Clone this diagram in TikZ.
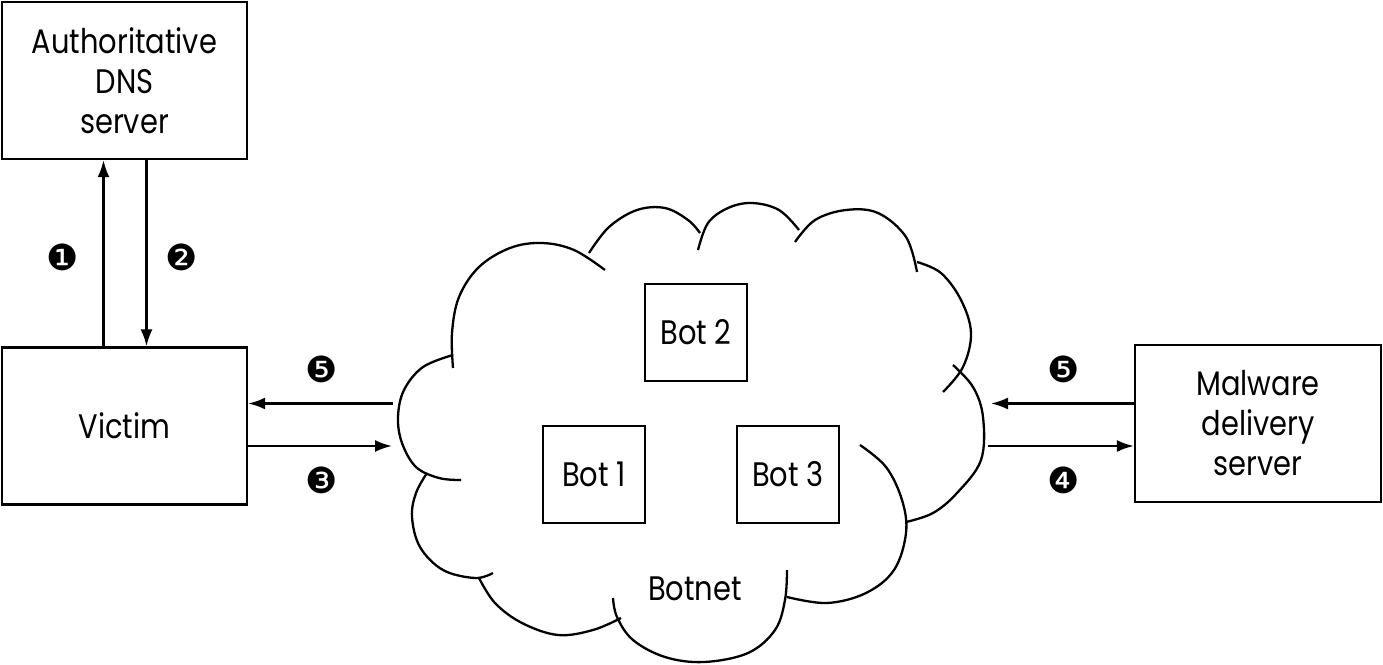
\documentclass[tikz,border=0pt]{standalone}
\usepackage{fontspec}
\setmainfont{Poppins}[FakeStretch=0.85]
\newfontfamily\numfont{DejaVu Sans}
\usetikzlibrary{arrows.meta}
\begin{document}
\begin{tikzpicture}[x=1pt,y=-1pt,
  box/.style={draw,line width=2.3pt,align=center,inner sep=0pt,
    font=\fontsize{34}{40}\selectfont},
  bigbox/.style={box,minimum width=245pt,minimum height=157pt},
  botbox/.style={box,minimum width=102pt,minimum height=97pt},
  arr/.style={line width=2.3pt,-{Latex[length=17pt,width=12pt]}},
  num/.style={font=\numfont\fontsize{36}{36}\selectfont,inner sep=0pt},
  lobe/.style={line width=2.3pt}]
\useasboundingbox (0,0) rectangle (1383,664);
\node[bigbox] (dns) at (124.5,80.5) {Authoritative\\DNS\\server};
\node[bigbox] (victim) at (124.5,426) {Victim};
\node[bigbox,minimum width=246pt] (mal) at (1258,423.5) {Malware\\delivery\\server};
\node[botbox] (bot2) at (696,332.5) {Bot 2};
\node[botbox] (bot1) at (594,474.5) {Bot 1};
\node[botbox] (bot3) at (788,474.5) {Bot 3};
\node[font=\fontsize{34}{40}\selectfont,inner sep=0pt] (botnet) at (695,589) {Botnet};
% cloud
\draw[lobe] plot[smooth,tension=0.6] coordinates {(453,368) (452,333) (459,297) (479,267) (510,248) (542,243) (574,250) (605,270)};
\draw[lobe] plot[smooth,tension=0.6] coordinates {(589,253) (609,227) (637,210) (665,208) (688,220) (700,233)};
\draw[lobe] plot[smooth,tension=0.6] coordinates {(698,250) (708,223) (728,208) (752,203) (779,210) (799,230)};
\draw[lobe] plot[smooth,tension=0.6] coordinates {(795,242) (815,220) (846,210) (878,213) (906,237) (917,272)};
\draw[lobe] plot[smooth,tension=0.6] coordinates {(917,262) (941,273) (961,300) (971,333) (963,367) (943,392)};
\draw[lobe] plot[smooth,tension=0.6] coordinates {(953,365) (973,387) (983,417) (981,460) (957,493) (933,513) (906,522)};
\draw[lobe] plot[smooth,tension=0.6] coordinates {(860,445) (886,467) (902,500) (906,533) (894,570) (866,593) (827,603) (787,597)};
\draw[lobe] plot[smooth,tension=0.6] coordinates {(787,570) (785,600) (775,630) (748,653) (704,662) (665,657) (633,640) (617,617) (613,598)};
\draw[lobe] plot[smooth,tension=0.6] coordinates {(621,618) (593,630) (558,635) (522,623) (495,603) (479,578)};
\draw[lobe] plot[smooth,tension=0.6] coordinates {(493,573) (475,578) (443,570) (420,547) (412,517) (416,493) (427,473)};
\draw[lobe] plot[smooth,tension=0.6] coordinates {(461,480) (439,478) (416,467) (402,443) (398,417) (404,390) (423,367) (453,355)};
% arrows
\coordinate (xa) at (103.5,0);
\coordinate (xb) at (146.5,0);
\draw[arr] (xa |- victim.north) -- (xa |- dns.south);
\draw[arr] (xb |- dns.south) -- (xb |- victim.north);
\coordinate (cl5) at (393,403.5);
\coordinate (cl3) at (392,446);
\coordinate (cr5) at (991,403.5);
\coordinate (cr4) at (988,446);
\draw[arr] (cl5) -- (cl5 -| victim.east);
\draw[arr] (cl3 -| victim.east) -- (cl3);
\draw[arr] (cr5 -| mal.west) -- (cr5);
\draw[arr] (cr4) -- (cr4 -| mal.west);
\node[num] (n1) at (63,257) {❶};
\node[num] (n2) at (182,257) {❷};
\node[num] (n5a) at (322,369) {❺};
\node[num] (n3) at (322,480) {❸};
\node[num] (n5b) at (1064,369) {❺};
\node[num] (n4) at (1064,480) {❹};
\end{tikzpicture}
\end{document}
